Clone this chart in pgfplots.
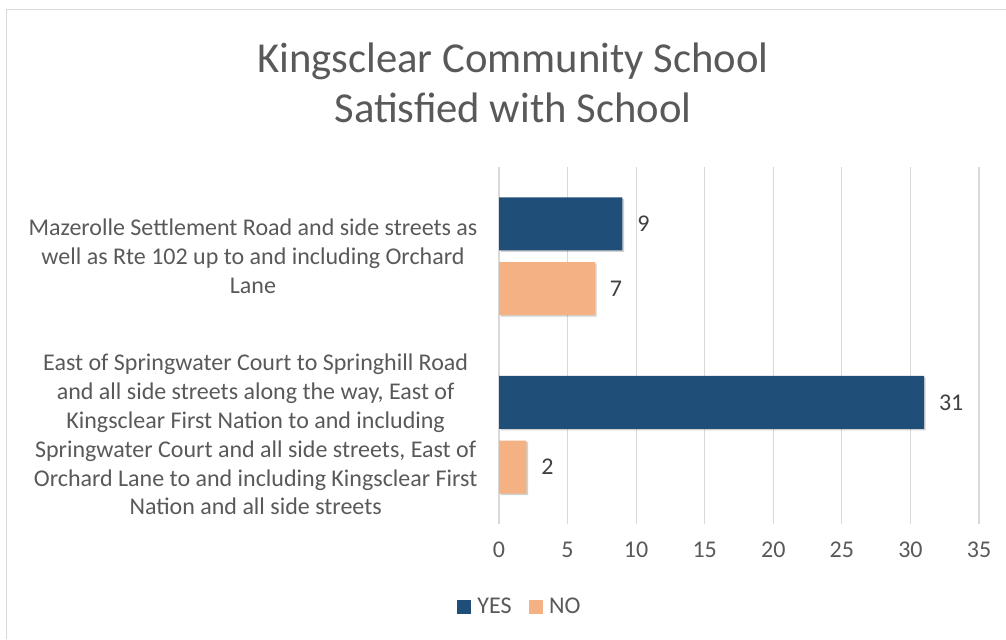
\documentclass[border=0pt]{standalone}
\usepackage{pgfplots}
\pgfplotsset{compat=1.18}
\usepackage{fontspec}
\setmainfont{Carlito}
\usetikzlibrary{shadows}
\definecolor{yescol}{HTML}{1F4E79}
\definecolor{nocol}{HTML}{F4B183}
\definecolor{gridcol}{HTML}{D9D9D9}
\definecolor{txtcol}{HTML}{595959}
\definecolor{valcol}{HTML}{404040}
\begin{document}
\begin{tikzpicture}
  % picture is 1006x639 px, 1px = 0.75pt
  \useasboundingbox (0,0) rectangle (754.5pt,479.25pt);
  \draw[gridcol, line width=1.2pt] (4.9pt,0) -- (4.9pt,472.1pt) -- (754.5pt,472.1pt);
  \node[txtcol, align=center, font=\fontsize{32}{37}\selectfont] at (384.75pt,417pt)
    {Kingsclear Community School\\Satisfied with School};
  \begin{axis}[
      at={(374.25pt,86.25pt)}, anchor=south west,
      scale only axis, width=360pt, height=267.75pt,
      xbar,
      xmin=0, xmax=35, xtick={0,5,...,35},
      ymin=-0.5, ymax=1.5, ytick={0,1},
      yticklabels={{East of Springwater Court to Springhill Road\\and all side streets along the way, East of\\Kingsclear First Nation to and including\\Springwater Court and all side streets, East of\\Orchard Lane to and including Kingsclear First\\Nation and all side streets},
                   {Mazerolle Settlement Road and side streets as\\well as Rte 102 up to and including Orchard\\Lane}},
      yticklabel style={align=center, font=\fontsize{18}{21.6}\selectfont, text=txtcol, inner sep=0pt, xshift=-16pt},
      xticklabel style={font=\fontsize{18}{20}\selectfont, text=txtcol, /pgf/number format/assume math mode=true, yshift=-10pt},
      xmajorgrids, grid style={gridcol, line width=0.9pt},
      axis line style={draw=none}, major tick length=0pt,
      legend style={at={(0.044,-0.2325)}, anchor=center, legend columns=2, draw=none,
        font=\fontsize{18}{20}\selectfont, text=txtcol,
        /tikz/every even column/.append style={column sep=11pt}},
      point meta=x,
      nodes near coords,
      every node near coord/.append style={font=\fontsize{18}{20}\selectfont, text=valcol, anchor=west, inner sep=0pt, xshift=11pt,
        /pgf/number format/assume math mode=true},
    ]
    \addplot[forget plot, fill=yescol, draw=none, bar width=39.75pt, bar shift=24.3pt,
      drop shadow={shadow xshift=1.2pt, shadow yshift=-1.2pt, opacity=0.18, fill=black}]
      coordinates {(31,0) (9,1)};
    \addplot[forget plot, fill=nocol, draw=none, bar width=39.75pt, bar shift=-24.3pt,
      drop shadow={shadow xshift=1.2pt, shadow yshift=-1.2pt, opacity=0.18, fill=black}]
      coordinates {(2,0) (7,1)};
    \addlegendimage{legend image code/.code={\fill[yescol] (0pt,-4.9pt) rectangle (9.75pt,4.9pt);}}
    \addlegendentry{\hspace{3pt}YES}
    \addlegendimage{legend image code/.code={\fill[nocol] (0pt,-4.9pt) rectangle (9.75pt,4.9pt);}}
    \addlegendentry{\hspace{3pt}NO}
  \end{axis}
\end{tikzpicture}
\end{document}
